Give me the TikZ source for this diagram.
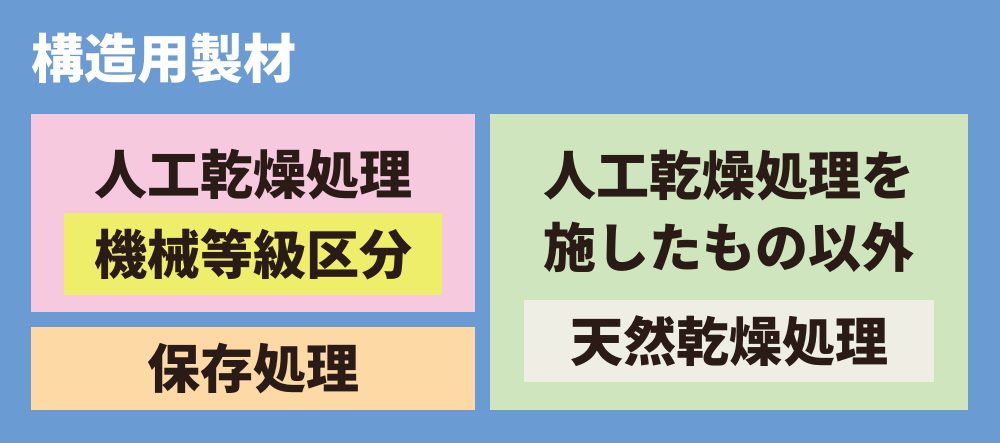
\documentclass[tikz,border=0pt]{standalone}
\usepackage{fontspec}
\newfontfamily\cjk{Noto Sans CJK JP}
\definecolor{bgblue}{HTML}{6B9BD3}
\definecolor{pinkbox}{HTML}{F6C9DF}
\definecolor{yellowbox}{HTML}{EFEE6A}
\definecolor{orangebox}{HTML}{FDD9A6}
\definecolor{greenbox}{HTML}{CEE5BD}
\definecolor{paperbox}{HTML}{EEEEE4}
\definecolor{ink}{HTML}{2A1B17}

\begin{document}
\begin{tikzpicture}[x=1pt, y=-1pt,
                    nodes={inner sep=0, text=ink,
                           font=\cjk\bfseries\fontsize{53}{72}\selectfont},
                    panel/.style={anchor=north west, minimum width=#1}]
                \fill [bgblue] (0,0) rectangle (1000,443);
                \useasboundingbox (0,0) rectangle (1000,443);

                \node (title) [anchor=west, text=white] at (31,59) {構造用製材};

                % left column
                \node (kd) [panel=444pt, minimum height=198pt, fill=pinkbox] at (31,114) {};
                \node (grade) [panel=378pt, minimum height=82pt, fill=yellowbox] at (64,213) {};
                \node (pres) [panel=444pt, minimum height=83pt, fill=orangebox] at (31,327) {};
                \node (kdtext) at (253,175) {人工乾燥処理};
                \node at (grade) {機械等級区分};
                \node at (pres) {保存処理};

                % right column
                \node (other) [panel=478pt, minimum height=296pt, fill=greenbox] at (490,114) {};
                \node (air) [panel=410pt, minimum height=82pt, fill=paperbox] at (524,300) {};
                \node (othertext) [align=center] at (729,211) {人工乾燥処理を\\施したもの以外};
                \node at (air) {天然乾燥処理};
            \end{tikzpicture}
\end{document}
